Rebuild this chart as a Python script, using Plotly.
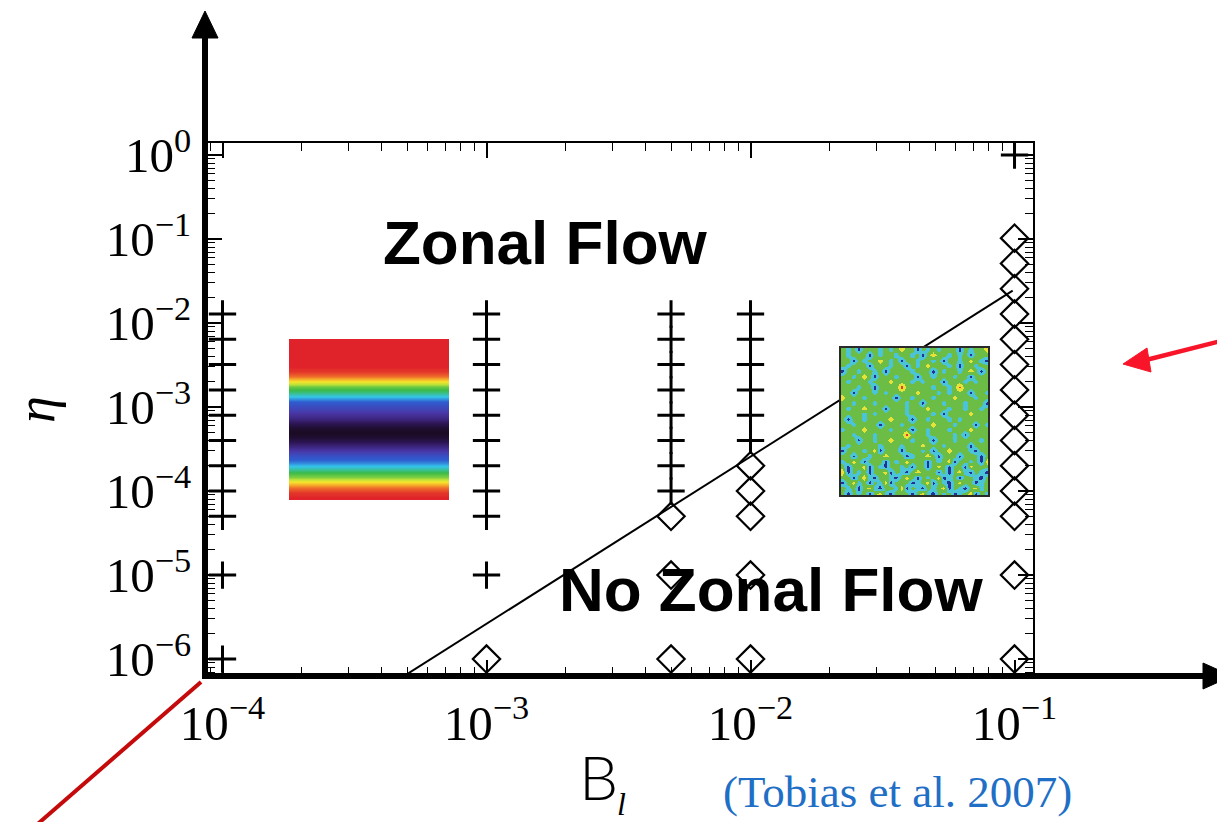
import plotly.graph_objects as go

# ---------------- data ----------------
# simulations that show a zonal flow (plus signs)
B_plus_col = [1e-4, 1e-3, 5e-3, 1e-2, 1e-1]
eta_plus_B1e4 = [1.28e-2, 6.4e-3, 3.2e-3, 1.6e-3, 8e-4, 4e-4, 2e-4, 1e-4, 5e-5, 1e-5, 1e-6]
eta_plus_B1e3 = [1.28e-2, 6.4e-3, 3.2e-3, 1.6e-3, 8e-4, 4e-4, 2e-4, 1e-4, 5e-5, 1e-5]
eta_plus_B5e3 = [1.28e-2, 6.4e-3, 3.2e-3, 1.6e-3, 8e-4, 4e-4, 2e-4, 1e-4]
eta_plus_B1e2 = [1.28e-2, 6.4e-3, 3.2e-3, 1.6e-3, 8e-4, 4e-4]
eta_plus_B1e1 = [1.0]

# simulations without zonal flow (diamonds)
B_diam_col = [1e-3, 5e-3, 1e-2, 1e-1]
eta_diam_B1e3 = [1e-6]
eta_diam_B5e3 = [5e-5, 1e-5, 1e-6]
eta_diam_B1e2 = [2e-4, 1e-4, 5e-5, 1e-5, 1e-6]
eta_diam_B1e1 = [1.024e-1, 5.12e-2, 2.56e-2, 1.28e-2, 6.4e-3, 3.2e-3, 1.6e-3,
                 8e-4, 4e-4, 2e-4, 1e-4, 5e-5, 1e-5, 1e-6]

# boundary line (eta ~ B^2)
line_B = [4.6e-4, 9.84e-2]
line_eta = [5.6e-7, 2.43e-2]

x_tickvals = [1e-4, 1e-3, 1e-2, 1e-1]
x_ticktext = ["10<sup>\u22124</sup>", "10<sup>\u22123</sup>", "10<sup>\u22122</sup>", "10<sup>\u22121</sup>"]
y_tickvals = [1e-6, 1e-5, 1e-4, 1e-3, 1e-2, 1e-1, 1e0]
y_ticktext = ["10<sup>\u22126</sup>", "10<sup>\u22125</sup>", "10<sup>\u22124</sup>", "10<sup>\u22123</sup>",
              "10<sup>\u22122</sup>", "10<sup>\u22121</sup>", "10<sup>0</sup>"]

# inset 1: zonal-flow snapshot, vertical profile of the banded field (top -> bottom)
zonal_profile = [1.0, 1.0, 1.0, 1.0, 1.0, 1.0, 0.98, 0.92, 0.78, 0.64, 0.58, 0.5,
                 0.42, 0.36, 0.3, 0.22, 0.12, 0.05, 0.02, 0.05, 0.12, 0.22, 0.32, 0.4,
                 0.45, 0.52, 0.6, 0.66, 0.8, 0.92, 0.98, 1.0]
# inset 2: no-zonal-flow snapshot (b=blue, c=cyan, g=green, y=yellow, r=red)
turb_rows = [
    "gcgbgggcgcgyggbgcgcgggbgcggy",
    "gcgggbgcggcggcgbgyggcgcgbggg",
    "ggbgcggygcgbggcggcgbggcgygcb",
    "gcgggbgggcggbgcgygggcgbggcgg",
    "bggcggcgbggggcgggbgcggcgygbg",
    "ggcgygbgggcgggbggcgggcggbggg",
    "gcgggcgggygggcgcgggbgggcgcgg",
    "gggcggbggggrgggggcggcgrggggg",
    "ggbgggcgcgggggygggcgcgggbggc",
    "ygggcgggggbggcgggcgggygggcgg",
    "ggcgggcgggggcggbgggcgggcgggb",
    "gcggygggbgggcgggygggcggcggcg",
    "ggggcgcgggggcggggcgbggggyggg",
    "gbggcggggygggbggcgggcgcggggg",
    "ggcggggbgggcgggggygggcgggbgc",
    "cgggyggggcgggbggcgggcgggyggg",
    "ggcgggcgggggrgggcggggcgbgggg",
    "gggbggcggygggcgggbgggcggggcg",
    "gcgggggcgggcgggygggcggggbggg",
    "bgggcgybgggbgggcgbggygggcbgg",
    "ggbggcggygggbcggygbgggbgggbg",
    "cgygbgggbgcgygggbgcgybggcgby",
    "gbggybgcbggcgbggbgygbggbyggg",
    "ybgcgbggybgcbgygggbgbgycbgcb",
    "ggbgycbggcbgygbgcgybcgbggcbg",
    "bgycgbgcybgggbcgybgcbgyggbcg",
    "gcgbgycbggcybgcbgcgybgcbgycg",
    "gbgcgbgycbgggbgycbgcgbcgybgc",
]

# ---------------- layout geometry (pixels) ----------------
W, H = 1217, 822
L, R, T, Bm = 207, 1033, 143, 675
PW, PH = R - L, Bm - T


def px(x):
    return (x - L) / PW


def py(y):
    return (Bm - y) / PH


fig = go.Figure()

plus_cols = [eta_plus_B1e4, eta_plus_B1e3, eta_plus_B5e3, eta_plus_B1e2, eta_plus_B1e1]
plus_x, plus_y = [], []
for b, etas in zip(B_plus_col, plus_cols):
    plus_x += [b] * len(etas)
    plus_y += etas

diam_cols = [eta_diam_B1e3, eta_diam_B5e3, eta_diam_B1e2, eta_diam_B1e1]
diam_x, diam_y = [], []
for b, etas in zip(B_diam_col, diam_cols):
    diam_x += [b] * len(etas)
    diam_y += etas

fig.add_trace(go.Scatter(x=line_B, y=line_eta, mode="lines",
                         line=dict(color="black", width=2), hoverinfo="skip"))
fig.add_trace(go.Scatter(x=plus_x, y=plus_y, mode="markers",
                         marker=dict(symbol="cross-thin", size=19.5, color="black",
                                     line=dict(color="black", width=3)), cliponaxis=False))
fig.add_trace(go.Scatter(x=diam_x, y=diam_y, mode="markers",
                         marker=dict(symbol="diamond-open", size=21, color="black",
                                     line=dict(color="black", width=2.2)), cliponaxis=False))

# inset heatmaps
zonal_scale = [[0.0, "#160818"], [0.12, "#30175a"], [0.28, "#4a36a6"], [0.42, "#2f5cd0"],
               [0.5, "#35c6ea"], [0.6, "#3cba4a"], [0.7, "#b8e03a"], [0.78, "#f6e52c"],
               [0.88, "#f5962a"], [1.0, "#e0232a"]]
fig.add_trace(go.Heatmap(z=[[v, v, v] for v in zonal_profile], colorscale=zonal_scale,
                         zmin=0, zmax=1, showscale=False, zsmooth="best",
                         xaxis="x2", yaxis="y2", hoverinfo="skip"))

level = {"b": 0, "c": 1, "g": 2, "y": 3, "r": 4}
turb_z = [[level[ch] for ch in row] for row in turb_rows]
turb_colors = ["#243296", "#4cc4d8", "#6cbd45", "#e6e23a", "#e0402a"]
turb_scale = []
for i, c in enumerate(turb_colors):
    turb_scale += [[i / 5, c], [(i + 1) / 5, c]]
fig.add_trace(go.Heatmap(z=turb_z, colorscale=turb_scale, zmin=-0.5, zmax=4.5,
                         showscale=False, zsmooth="best", xaxis="x3", yaxis="y3",
                         hoverinfo="skip"))

tickfont = dict(family="Liberation Serif", size=49, color="black")
minor_x = [m * 10 ** e for e in range(-5, 0) for m in range(2, 10)]
minor_y = [m * 10 ** e for e in range(-7, 1) for m in range(2, 10)]

fig.update_layout(
    width=W, height=H,
    margin=dict(l=L, r=W - R, t=T, b=H - Bm, pad=0, autoexpand=False),
    paper_bgcolor="white", plot_bgcolor="white", showlegend=False,
    xaxis=dict(type="log", range=[-4.0587, -0.93], showgrid=False, zeroline=False,
               showline=True, linecolor="black", linewidth=2, mirror="allticks",
               ticks="inside", ticklen=15, tickwidth=1.5, tickcolor="black",
               tickvals=x_tickvals, ticktext=x_ticktext, tickfont=tickfont,
               ticklabelstandoff=4,
               minor=dict(ticks="inside", ticklen=8, tickwidth=1.2, tickcolor="black",
                          tickvals=minor_x)),
    yaxis=dict(type="log", range=[-6.19, 0.143], showgrid=False, zeroline=False,
               showline=True, linecolor="black", linewidth=2, mirror="allticks",
               ticks="inside", ticklen=15, tickwidth=1.5, tickcolor="black",
               tickvals=y_tickvals, ticktext=y_ticktext, tickfont=tickfont,
               ticklabelstandoff=4,
               minor=dict(ticks="inside", ticklen=8, tickwidth=1.2, tickcolor="black",
                          tickvals=minor_y)),
    xaxis2=dict(domain=[px(289), px(449)], anchor="y2", visible=False),
    yaxis2=dict(domain=[py(500), py(339)], anchor="x2", visible=False, autorange="reversed"),
    xaxis3=dict(domain=[px(840), px(989)], anchor="y3", visible=False),
    yaxis3=dict(domain=[py(496), py(347)], anchor="x3", visible=False, autorange="reversed"),
)

shapes = []
# inset 2 border
shapes.append(dict(type="rect", xref="paper", yref="paper", x0=px(840), x1=px(989),
                   y0=py(496), y1=py(347), line=dict(color="#2a2a2a", width=2), layer="above"))
# thick arrow axes
shapes.append(dict(type="line", xref="paper", yref="paper", x0=px(205), x1=px(205),
                   y0=py(679), y1=py(35), line=dict(color="black", width=6), layer="above"))
shapes.append(dict(type="path", xref="paper", yref="paper",
                   path=f"M{px(205)},{py(11)} L{px(192)},{py(38)} L{px(218)},{py(38)} Z",
                   fillcolor="black", line=dict(color="black", width=1), layer="above"))
shapes.append(dict(type="line", xref="paper", yref="paper", x0=px(202), x1=px(1206),
                   y0=py(676), y1=py(676), line=dict(color="black", width=6), layer="above"))
shapes.append(dict(type="path", xref="paper", yref="paper",
                   path=f"M{px(1232)},{py(676)} L{px(1203)},{py(663)} L{px(1203)},{py(689)} Z",
                   fillcolor="black", line=dict(color="black", width=1), layer="above"))
# red annotation arrows
shapes.append(dict(type="line", xref="paper", yref="paper", x0=px(201), x1=px(25),
                   y0=py(682), y1=py(835), line=dict(color="#c40a0a", width=4), layer="above"))
shapes.append(dict(type="line", xref="paper", yref="paper", x0=px(1225), x1=px(1146),
                   y0=py(340), y1=py(360), line=dict(color="#f8152a", width=4.5), layer="above"))
shapes.append(dict(type="path", xref="paper", yref="paper",
                   path=f"M{px(1123)},{py(364)} L{px(1147)},{py(348)} L{px(1151)},{py(372)} Z",
                   fillcolor="#f8152a", line=dict(color="#f8152a", width=1), layer="above"))
fig.update_layout(shapes=shapes)

ann = []
bold = dict(family="Liberation Sans", size=62, color="black")
ann.append(dict(text="<b>Zonal Flow</b>", x=px(545), y=py(242), xref="paper", yref="paper",
                showarrow=False, font=bold, xanchor="center", yanchor="middle"))
ann.append(dict(text="<b>No Zonal Flow</b>", x=px(771), y=py(589), xref="paper", yref="paper",
                showarrow=False, font=bold, xanchor="center", yanchor="middle"))
ann.append(dict(text="<i>\u03b7</i>", x=px(36), y=py(410), xref="paper", yref="paper",
                showarrow=False, textangle=-90,
                font=dict(family="Liberation Serif", size=54, color="black"),
                xanchor="center", yanchor="middle"))
ann.append(dict(text="B", x=px(598), y=py(776), xref="paper", yref="paper",
                showarrow=False, font=dict(family="Lato", size=62, color="black", weight=300),
                xanchor="center", yanchor="middle"))
ann.append(dict(text="<i>l</i>", x=px(621), y=py(804), xref="paper", yref="paper",
                showarrow=False, font=dict(family="Liberation Serif", size=32, color="black"),
                xanchor="center", yanchor="middle"))
ann.append(dict(text="(Tobias et al. 2007)", x=px(897), y=py(792), xref="paper", yref="paper",
                showarrow=False, font=dict(family="Liberation Serif", size=45, color="#1f6fc6"),
                xanchor="center", yanchor="middle"))
fig.update_layout(annotations=ann)

fig.write_html("out.html", config={"displayModeBar": False},
               post_script="document.body.style.margin='0';document.body.style.overflow='hidden';")
